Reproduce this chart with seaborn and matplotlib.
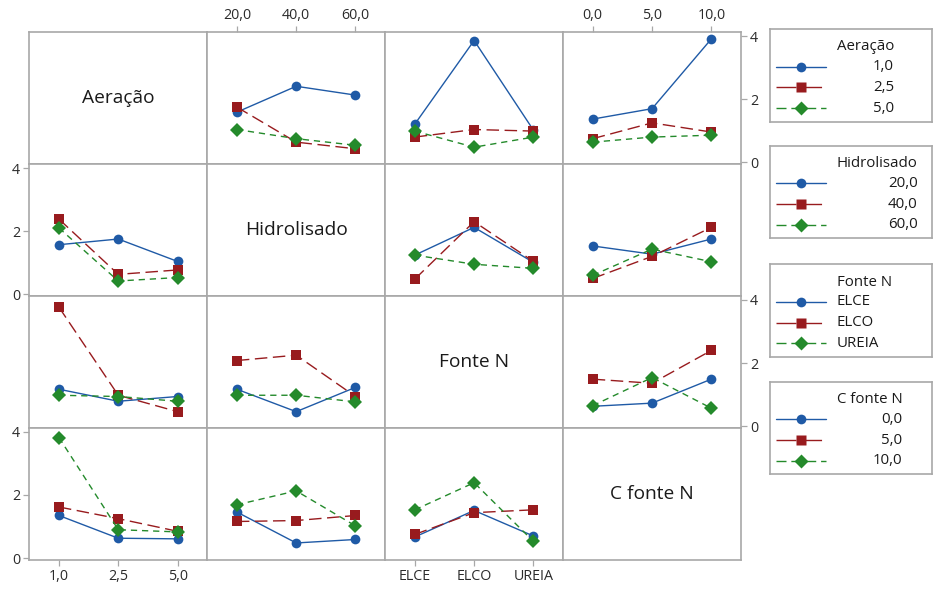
import numpy as np
import pandas as pd
import matplotlib
matplotlib.use("Agg")
import matplotlib.pyplot as plt
import seaborn as sns
from matplotlib.lines import Line2D

# ---------------- data ----------------
factors = ["Aeração", "Hidrolisado", "Fonte N", "C fonte N"]
aeracao_levels = ["1,0", "2,5", "5,0"]
hidrolisado_levels = ["20,0", "40,0", "60,0"]
fonte_levels = ["ELCE", "ELCO", "UREIA"]
cfonte_levels = ["0,0", "5,0", "10,0"]
y_ticks = [0, 2, 4]

# mean response: rows = level of the line factor, columns = level of the x factor
aer_by_hid = [[1.59, 2.41, 2.13], [1.75, 0.64, 0.43], [1.04, 0.75, 0.54]]
aer_by_fonte = [[1.21, 3.86, 1.02], [0.80, 1.04, 0.99], [0.99, 0.48, 0.80]]
aer_by_cfonte = [[1.37, 1.70, 3.91], [0.75, 1.25, 0.96], [0.64, 0.80, 0.86]]
hid_by_aer = [[1.57, 1.75, 1.04], [2.38, 0.63, 0.77], [2.10, 0.42, 0.53]]
hid_by_fonte = [[1.24, 2.12, 1.01], [0.48, 2.30, 1.04], [1.24, 0.95, 0.82]]
hid_by_cfonte = [[1.53, 1.27, 1.75], [0.50, 1.20, 2.12], [0.60, 1.43, 1.03]]
fonte_by_aer = [[1.17, 0.79, 0.94], [3.77, 0.98, 0.46], [0.98, 0.94, 0.79]]
fonte_by_hid = [[1.17, 0.46, 1.23], [2.08, 2.25, 0.94], [0.98, 0.98, 0.77]]
fonte_by_cfonte = [[0.63, 0.73, 1.49], [1.49, 1.36, 2.40], [0.65, 1.54, 0.57]]
cfonte_by_aer = [[1.35, 0.63, 0.61], [1.62, 1.25, 0.85], [3.82, 0.90, 0.83]]
cfonte_by_hid = [[1.46, 0.48, 0.59], [1.16, 1.19, 1.35], [1.69, 2.13, 1.02]]
cfonte_by_fonte = [[0.67, 1.51, 0.70], [0.75, 1.44, 1.53], [1.53, 2.39, 0.53]]

levels = [aeracao_levels, hidrolisado_levels, fonte_levels, cfonte_levels]
panels = {
    (0, 1): aer_by_hid, (0, 2): aer_by_fonte, (0, 3): aer_by_cfonte,
    (1, 0): hid_by_aer, (1, 2): hid_by_fonte, (1, 3): hid_by_cfonte,
    (2, 0): fonte_by_aer, (2, 1): fonte_by_hid, (2, 3): fonte_by_cfonte,
    (3, 0): cfonte_by_aer, (3, 1): cfonte_by_hid, (3, 2): cfonte_by_fonte,
}

# ---------------- style ----------------
sns.set_theme(style="white")
plt.rcParams["font.family"] = ["Open Sans", "DejaVu Sans"]

colors = ["#1f5aa6", "#981b1e", "#248a2b"]
markers = ["o", "s", "D"]
dashes = ["", (9, 4), (4.5, 3.5)]
grid_col = "#a8a8a8"
text_col = "#2b2b2b"
tick_fs = 10.3

fig = plt.figure(figsize=(9.34, 5.89), dpi=100)
W, H = 934, 589
gs = fig.add_gridspec(4, 4, left=29.3 / W, right=741 / W,
                      top=1 - 32.3 / H, bottom=1 - 560 / H,
                      wspace=0, hspace=0)

for i in range(4):
    for j in range(4):
        ax = fig.add_subplot(gs[i, j])
        ax.set_xlim(-0.5, 2.5)
        ax.set_ylim(-0.06, 4.12)
        for s in ax.spines.values():
            s.set_color(grid_col)
            s.set_linewidth(1.2)
        ax.tick_params(left=False, right=False, top=False, bottom=False,
                       labelleft=False, labelright=False,
                       labeltop=False, labelbottom=False,
                       length=4.5, width=0.9, color=grid_col, pad=2,
                       labelsize=tick_fs, labelcolor=text_col)
        ax.set_xticks([0, 1, 2])
        ax.set_xticklabels(levels[j])
        ax.set_yticks(y_ticks)
        ax.set_yticklabels([str(t) for t in y_ticks])
        ax.set_xlabel("")
        ax.set_ylabel("")
        if i == j:
            ax.text(0.5, 0.5, factors[i], transform=ax.transAxes,
                    ha="center", va="center", fontsize=13.8, color="#1a1a1a")
            continue
        vals = panels[(i, j)]
        rows = []
        for li, lvl in enumerate(levels[i]):
            for xi in range(3):
                rows.append({"x": xi, "y": vals[li][xi], "nivel": lvl})
        df = pd.DataFrame(rows)
        sns.lineplot(data=df, x="x", y="y", hue="nivel", style="nivel",
                     hue_order=levels[i], style_order=levels[i],
                     palette=colors, markers=markers, dashes=dashes,
                     markersize=7.0, markeredgewidth=0, linewidth=1.0,
                     sort=False, legend=False, ax=ax)
        ax.set_xlabel("")
        ax.set_ylabel("")
        ax.set_xlim(-0.5, 2.5)
        ax.set_ylim(-0.06, 4.12)

        if j == 0 and i in (1, 3):
            ax.tick_params(left=True, labelleft=True)
        if j == 3 and i in (0, 2):
            ax.tick_params(right=True, labelright=True)
        if i == 0 and j in (1, 3):
            ax.tick_params(top=True, labeltop=True)
        if i == 3 and j in (0, 2):
            ax.tick_params(bottom=True, labelbottom=True)

# ---------------- legends (one per row) ----------------
box_tops = [29, 145.7, 264.3, 381.7]
box_h = 92.5
box_x0, box_x1 = 770, 932
renderer = fig.canvas.get_renderer()
for i in range(4):
    lax = fig.add_axes([box_x0 / W, 1 - (box_tops[i] + box_h) / H,
                        (box_x1 - box_x0) / W, box_h / H])
    lax.set_xlim(0, box_x1 - box_x0)
    lax.set_ylim(box_h, 0)
    lax.set_xticks([])
    lax.set_yticks([])
    lax.set_facecolor("white")
    for s in lax.spines.values():
        s.set_color(grid_col)
        s.set_linewidth(1.2)
    tx = 66.7
    title = lax.text(tx, 18, factors[i], ha="left", va="center",
                     fontsize=10.8, color="#1a1a1a")
    fig.canvas.draw()
    tw = title.get_window_extent(renderer).width
    numeric = i != 2
    lab_objs = []
    for k, lvl in enumerate(levels[i]):
        yy = 37.5 + k * 20.8
        if dashes[k]:
            ln = Line2D([6, 56], [yy, yy], color=colors[k], lw=1.0,
                        dashes=(dashes[k][0] * 1.6, dashes[k][1]))
        else:
            ln = Line2D([6, 56], [yy, yy], color=colors[k], lw=1.0, ls="-")
        lax.add_line(ln)
        lax.add_line(Line2D([31], [yy], marker=markers[k], ms=7.0,
                            mec="none", color=colors[k], ls="none"))
        t = lax.text(tx, yy, lvl, ha="left", va="center", fontsize=10.8,
                     color="#1a1a1a")
        lab_objs.append(t)
    if numeric:
        fig.canvas.draw()
        widths = [t.get_window_extent(renderer).width for t in lab_objs]
        right = tx + max([tw] + widths)
        for t in lab_objs:
            t.set_ha("right")
            t.set_x(right)

fig.savefig("out.png", dpi=100)
